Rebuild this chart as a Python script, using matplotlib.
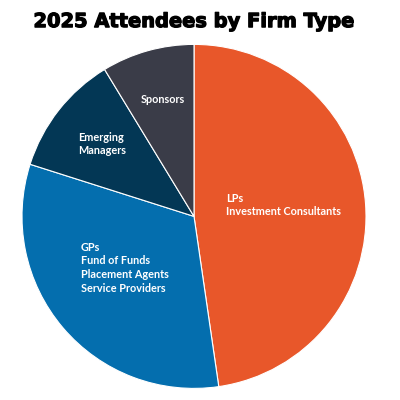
import matplotlib
matplotlib.use("Agg")
import matplotlib.pyplot as plt
import matplotlib.patheffects as pe

categories = ["LPs\nInvestment Consultants",
              "GPs\nFund of Funds\nPlacement Agents\nService Providers",
              "Emerging\nManagers",
              "Sponsors"]
values = [47.7, 32.2, 11.4, 8.7]
colors = ["#E8572A", "#046EAE", "#033755", "#3A3C48"]

fig = plt.figure(figsize=(4, 4), dpi=100)
ax = fig.add_axes([0.055, 0.029, 0.86, 0.86])
wedges, _ = ax.pie(values, colors=colors, startangle=90, counterclock=False,
                   wedgeprops=dict(edgecolor="white", linewidth=0.8))
ax.set_xlim(-1, 1)
ax.set_ylim(-1, 1)
ax.set_aspect("equal")

label_pos = [(0.186, 0.067, "left"), (-0.657, -0.299, "left"),
             (-0.674, 0.421, "left"), (-0.18, 0.677, "center")]
for (x, y, ha), lab in zip(label_pos, categories):
    ax.text(x, y, lab, ha=ha, va="center", color="white", fontsize=7.8,
            fontfamily="Lato", fontweight="bold", linespacing=1.3)

fig.text(0.486, 0.946, "2025 Attendees by Firm Type", ha="center", va="center",
         fontsize=14, fontweight="heavy", fontfamily="DejaVu Sans",
         path_effects=[pe.withStroke(linewidth=0.9, foreground="black")])
fig.savefig("out.png", dpi=100)
